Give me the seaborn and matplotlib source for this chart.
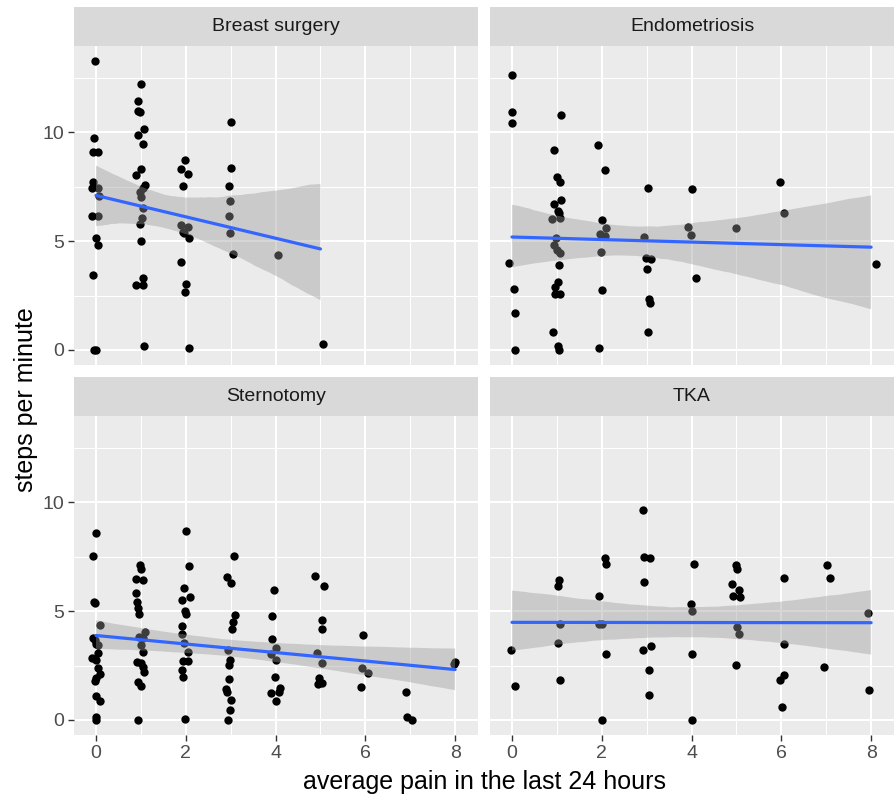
import numpy as np
import pandas as pd
import matplotlib
matplotlib.use("Agg")
import matplotlib.pyplot as plt
from matplotlib.ticker import FixedLocator
import seaborn as sns

# ---------------- data ----------------
facets = ["Breast surgery", "Endometriosis", "Sternotomy", "TKA"]

breast_pain = [-0.02, 1.01, 0.93, 0.94, 0.99, 1.07, 0.94, 1.05, 3.0, -0.04, -0.06, 0.04,
               1.99, 1.89, 2.05, 1.94, 3.0, 2.96, 2.98, 2.96, 2.99, 3.06, 4.05, 1.0, 0.9,
               1.1, 1.05, 0.99, 1.01, 1.04, 1.03, 0.98, 1.0, 0.9, 1.04, 1.05, 1.06, -0.06,
               -0.08, 0.04, 0.07, -0.08, 0.04, 0.0, 0.05, -0.06, -0.04, 0.01, 1.9, 2.01,
               1.99, 2.08, 5.06, 1.9, 2.05, 1.94, 1.97, 2.07]
breast_steps = [13.29, 12.2, 11.44, 10.98, 10.95, 10.17, 9.88, 9.48, 10.49, 9.72, 9.08, 9.11,
                8.73, 8.32, 8.07, 7.52, 8.36, 7.52, 6.85, 6.14, 5.39, 4.41, 4.36, 8.32, 8.02,
                7.58, 7.43, 7.27, 7.04, 6.51, 6.05, 5.77, 5.0, 2.99, 3.29, 2.99, 0.17, 7.73,
                7.46, 7.46, 7.09, 6.16, 6.16, 5.13, 4.82, 3.45, 0.0, 0.0, 4.06, 3.05,
                2.68, 0.08, 0.28, 5.74, 5.67, 5.44, 5.36, 5.13]

endo_pain = [0.0, 0.0, 0.0, 1.09, 0.93, 1.91, 2.08, 1.0, 1.08, 3.02, 4.0, 5.97, 0.93, 1.09,
             1.02, 1.04, 0.9, 1.06, 2.01, 2.09, 1.97, 2.08, 6.06, 4.99, 3.93, 3.99, 2.94,
             0.97, 0.93, 1.0, 1.06, 1.98, 2.99, 3.09, 3.0, 4.1, 8.1, -0.07, 1.05, 0.04,
             1.02, 0.95, 1.08, 0.96, 2.0, 3.05, 3.07, 0.06, 0.91, 3.02, 1.02, 1.05, 0.07, 1.93]
endo_steps = [12.65, 10.95, 10.44, 10.8, 9.17, 9.43, 8.27, 7.95, 7.73, 7.43, 7.38, 7.73, 6.71,
              6.88, 6.4, 6.28, 6.02, 6.05, 5.97, 5.59, 5.33, 5.25, 6.31, 5.62, 5.64, 5.28, 5.18,
              5.13, 4.82, 4.59, 4.44, 4.5, 4.24, 4.17, 3.72, 3.29, 3.97, 4.0, 3.92, 2.79,
              3.14, 2.88, 2.56, 2.56, 2.74, 2.34, 2.14, 1.68, 0.84, 0.84, 0.2, 0.0, 0.0, 0.08]

stern_pain = [0.0, -0.06, -0.04, -0.02, 0.09, -0.06, -0.02, 0.01, 0.05, -0.1, 0.01, 0.05,
              0.05, 0.09, -0.02, 0.01, 0.01, 0.09, 0.01, 0.0,
              0.99, 1.0, 0.9, 1.04, 0.9, 0.92, 0.94, 0.96, 1.09, 0.96, 1.04, 1.01, 1.04,
              0.92, 1.01, 1.04, 1.07, 0.93, 1.0, 0.93,
              2.01, 2.08, 1.96, 2.09, 1.92, 1.98, 2.01, 1.92, 1.92, 1.96, 2.05, 1.94, 2.05,
              1.92, 1.94, 1.98,
              3.07, 2.92, 3.0, 3.09, 3.05, 3.04, 2.94, 2.98, 2.96, 2.96, 2.9, 2.92, 3.01,
              2.98, 2.94,
              3.96, 3.93, 3.92, 4.01, 3.9, 4.01, 3.99, 3.9, 4.09, 4.07, 4.0,
              4.88, 5.07, 5.03, 5.04, 4.93, 5.04, 4.96, 5.04, 4.94,
              5.94, 5.92, 6.05, 5.9,
              6.91, 6.93, 7.05,
              7.99, 7.98]
stern_steps = [8.59, 7.55, 5.44, 5.36, 4.36, 3.78, 3.68, 3.48, 3.45, 2.83, 2.76, 3.06,
               2.37, 2.1, 1.81, 1.91, 1.1, 0.87, 0.15, 0.0,
               7.14, 6.94, 6.48, 6.43, 5.82, 5.44, 5.16, 4.85, 4.03, 3.83, 3.75, 3.45, 3.11,
               2.68, 2.6, 2.45, 2.22, 1.76, 1.56, 0.0,
               8.68, 7.07, 6.05, 5.67, 5.51, 5.02, 4.87, 4.32, 3.95, 3.52, 3.14, 2.71, 2.71,
               2.3, 1.99, 0.05,
               7.53, 6.57, 6.28, 4.82, 4.52, 4.18, 3.22, 2.76, 2.53, 1.87, 1.42, 1.3, 0.92,
               0.46, 0.0,
               5.97, 4.76, 3.72, 3.29, 3.02, 2.76, 1.99, 1.26, 1.45, 1.27, 0.87,
               6.63, 6.13, 4.61, 4.18, 3.06, 2.6, 1.94, 1.68, 1.64,
               3.89, 2.37, 2.14, 1.5,
               1.3, 0.15, 0.0,
               2.68, 2.56]

tka_pain = [2.91, 2.08, 2.09, 2.93, 3.08, 4.06, 4.98, 5.01, 7.01, 1.04, 1.02, 2.95, 6.05,
            7.09, 4.91, 5.05, 4.93, 5.07, 1.93, 3.99, 4.0, 7.93, 1.06, 1.93, 2.0, 5.01, 5.06,
            1.02, 6.05, -0.02, 3.1, 2.91, 2.09, 4.01, 4.98, 6.96, 3.06, 1.06, 5.96, 6.06,
            0.07, 7.96, 3.05, 6.01, 2.0, 4.01]
tka_steps = [9.63, 7.46, 7.17, 7.47, 7.43, 7.17, 7.12, 6.92, 7.12, 6.43, 6.13, 6.32, 6.52,
             6.52, 6.23, 5.97, 5.7, 5.64, 5.68, 5.33, 5.0, 4.92, 4.41, 4.41, 4.4, 4.26, 3.94,
             3.55, 3.51, 3.22, 3.41, 3.2, 3.02, 3.02, 2.53, 2.42, 2.31, 1.84, 1.84, 2.05,
             1.55, 1.36, 1.15, 0.61, 0.0, 0.0]

pain_values = [breast_pain, endo_pain, stern_pain, tka_pain]
step_values = [breast_steps, endo_steps, stern_steps, tka_steps]

x_ticks = [0, 2, 4, 6, 8]
y_ticks = [0, 5, 10]
x_label = "average pain in the last 24 hours"
y_label = "steps per minute"

frames = []
for name, px, sy in zip(facets, pain_values, step_values):
    frames.append(pd.DataFrame({"group": name, "pain": px, "steps": sy}))
df = pd.concat(frames, ignore_index=True)
# the smooth is fitted on the reported (whole-number) pain scores; points are jittered
df["pain_score"] = df["pain"].round()

# ---------------- styling ----------------
sns.set_theme(style="white")
plt.rcParams["font.family"] = ["Liberation Sans", "DejaVu Sans"]

W, H = 896, 796
fig = plt.figure(figsize=(W / 100, H / 100), dpi=100)
fig.patch.set_facecolor("white")

col_left = [74, 490]
panel_w = 404
row_top = [46, 416]     # panel top (pixels from top)
panel_h = 319
strip_h = 39

xlim = (-0.49, 8.51)
ylim = (-0.69, 13.96)

for i, name in enumerate(facets):
    r, c = divmod(i, 2)
    left = col_left[c] / W
    bottom = 1 - (row_top[r] + panel_h) / H
    ax = fig.add_axes([left, bottom, panel_w / W, panel_h / H])
    sax = fig.add_axes([left, 1 - row_top[r] / H, panel_w / W, strip_h / H])

    sub = df[df["group"] == name]
    ax.set_facecolor("#EBEBEB")
    sns.scatterplot(data=sub, x="pain", y="steps", color="black", s=36,
                    linewidth=0, ax=ax, zorder=3)
    n_before = len(ax.collections)
    sns.regplot(data=sub, x="pain_score", y="steps", scatter=False, ci=95,
                n_boot=2000, seed=3, color="#3366FF",
                line_kws={"linewidth": 2.3, "zorder": 5}, ax=ax)
    for coll in ax.collections[n_before:]:
        coll.set_facecolor("#999999")
        coll.set_alpha(0.4)
        coll.set_edgecolor("none")
        coll.set_zorder(4)

    ax.set_xlim(*xlim)
    ax.set_ylim(*ylim)
    ax.xaxis.set_major_locator(FixedLocator(x_ticks))
    ax.yaxis.set_major_locator(FixedLocator(y_ticks))
    ax.xaxis.set_minor_locator(FixedLocator([1, 3, 5, 7]))
    ax.yaxis.set_minor_locator(FixedLocator([2.5, 7.5, 12.5]))
    ax.set_axisbelow(True)
    ax.grid(which="major", color="white", linewidth=1.45)
    ax.grid(which="minor", color="white", linewidth=0.75)
    for sp in ax.spines.values():
        sp.set_visible(False)
    ax.set_xlabel("")
    ax.set_ylabel("")
    ax.tick_params(which="minor", length=0)
    ax.tick_params(which="major", length=4, width=1.0, color="#333333",
                   labelcolor="#4D4D4D", labelsize=14, pad=3)
    ax.tick_params(axis="x", bottom=(r == 1), labelbottom=(r == 1))
    ax.tick_params(axis="y", left=(c == 0), labelleft=(c == 0))
    ax.tick_params(top=False, right=False)

    sax.set_facecolor("#D9D9D9")
    sax.set_xticks([])
    sax.set_yticks([])
    for sp in sax.spines.values():
        sp.set_visible(False)
    sax.text(0.5, 0.5, name, ha="center", va="center", fontsize=14,
             color="#1A1A1A", transform=sax.transAxes)

fig.text(484 / W, 1 - 782 / H, x_label, ha="center", va="center",
         fontsize=18, color="black")
fig.text(26 / W, 1 - 400 / H, y_label, ha="center", va="center",
         rotation=90, fontsize=18, color="black")

fig.savefig("out.png", dpi=100, facecolor="white")
